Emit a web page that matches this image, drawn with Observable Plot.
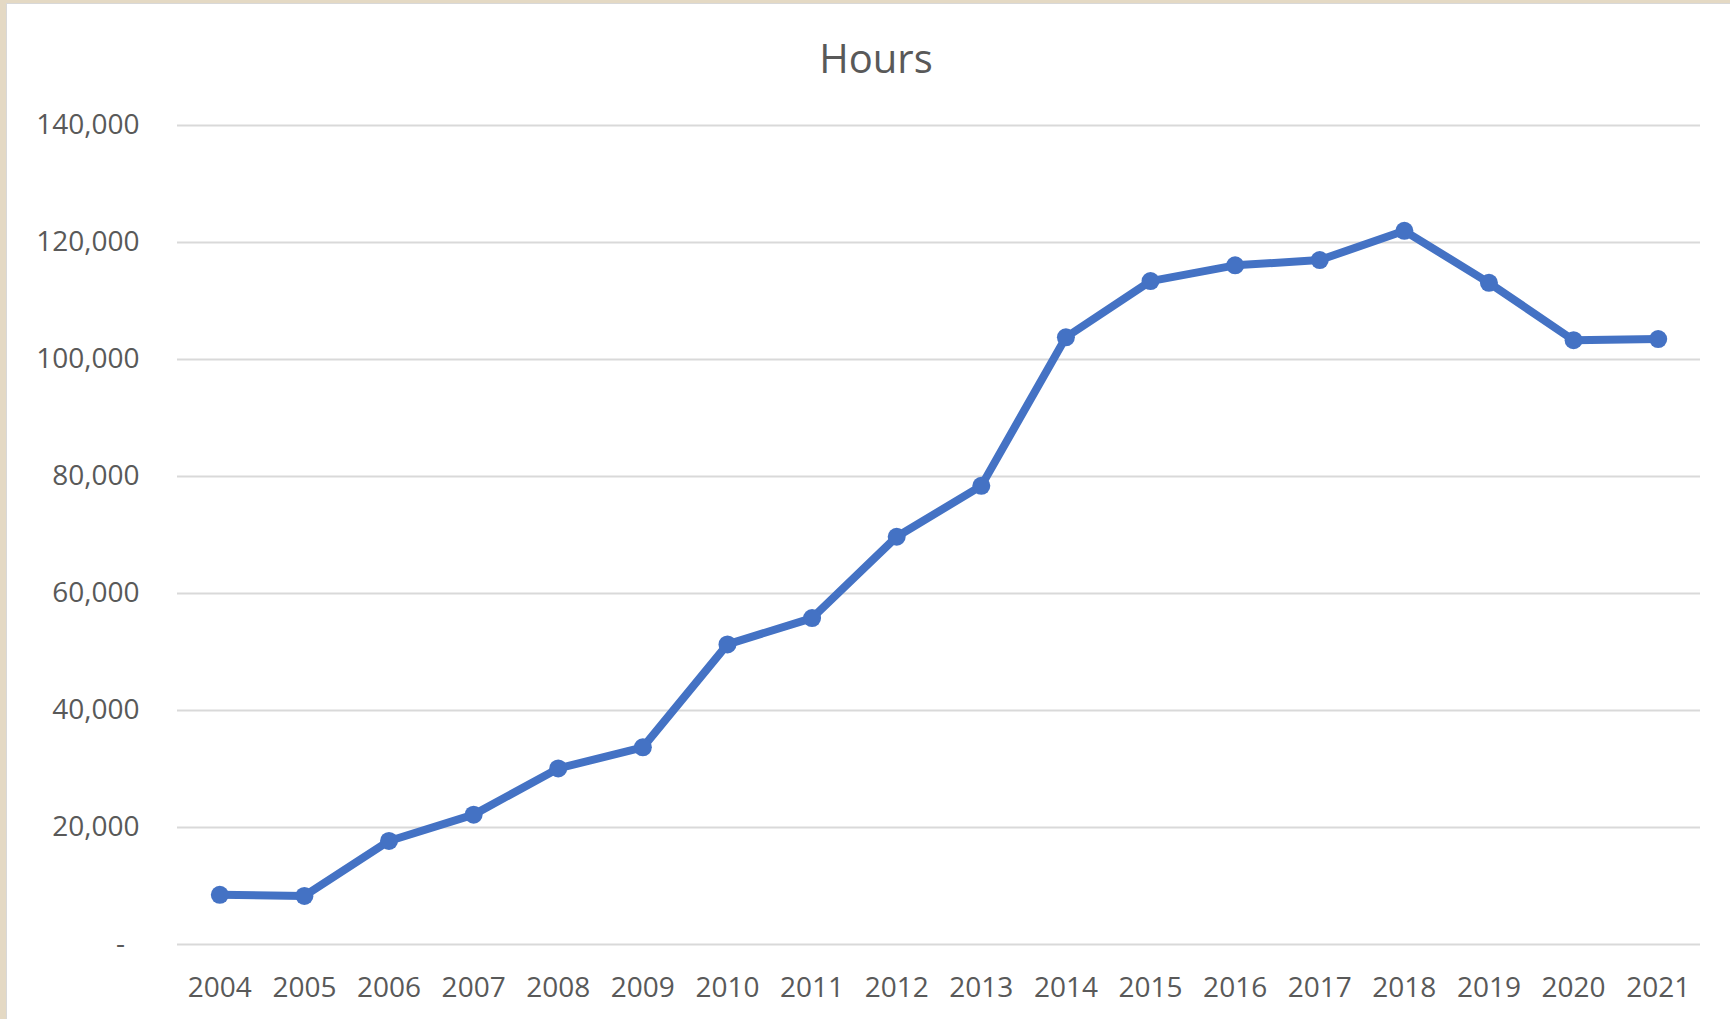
<!DOCTYPE html>
<html>
<head>
<meta charset="utf-8">
<script src="https://cdn.jsdelivr.net/npm/d3@7"></script>
<script src="https://cdn.jsdelivr.net/npm/@observablehq/plot@0.6"></script>
<style>
  html, body { margin: 0; padding: 0; }
  body { background: #e4d9c4; width: 1730px; height: 1019px; overflow: hidden; }
  #frame { position: absolute; left: 6px; top: 3px; width: 1724px; height: 1016px; background: #ffffff; box-shadow: inset 1px 1px 0 #d8d8d8; }
  #title { height: 90px; line-height: 110px; text-align: center; padding-left: 16px; box-sizing: border-box;
           font-family: "Open Sans", sans-serif; font-size: 40px; color: #595959; }
  #chart svg { display: block; }
</style>
</head>
<body>
<div id="frame">
  <div id="title">Hours</div>
  <div id="chart"></div>
</div>
<script>
const years = ["2004","2005","2006","2007","2008","2009","2010","2011","2012","2013","2014","2015","2016","2017","2018","2019","2020","2021"];
const hours = [8500, 8300, 17700, 22200, 30100, 33700, 51300, 55800, 69700, 78400, 103800, 113400, 116100, 117000, 122000, 113100, 103300, 103500];
const yTicks = [0, 20000, 40000, 60000, 80000, 100000, 120000, 140000];

const data = years.map((y, i) => ({year: y, hours: hours[i]}));
const fmt = d3.format(",");

const chart = Plot.plot({
  width: 1724,
  height: 923,
  marginTop: 32,
  marginBottom: 72,
  marginLeft: 171,
  marginRight: 30,
  style: {fontFamily: "'Open Sans', sans-serif", fontSize: "28px", color: "#595959", background: "transparent"},
  x: {type: "point", domain: years, padding: 0.5, round: false},
  y: {domain: [0, 140000]},
  marks: [
    Plot.gridY(yTicks, {stroke: "#d9d9d9", strokeOpacity: 1, strokeWidth: 2.2}),
    Plot.axisY(yTicks, {tickSize: 0, tickPadding: 38, label: null,
      tickFormat: d => d === 0 ? "-\u00a0\u00a0" : fmt(d), fill: "#595959"}),
    Plot.axisX({tickSize: 0, tickPadding: 33, label: null, fill: "#595959"}),
    Plot.line(data, {x: "year", y: "hours", stroke: "#4472c4", strokeWidth: 8, strokeLinejoin: "round", strokeLinecap: "round"}),
    Plot.dot(data, {x: "year", y: "hours", r: 9, fill: "#4472c4", stroke: "none"})
  ]
});
document.getElementById("chart").appendChild(chart);
</script>
</body>
</html>
